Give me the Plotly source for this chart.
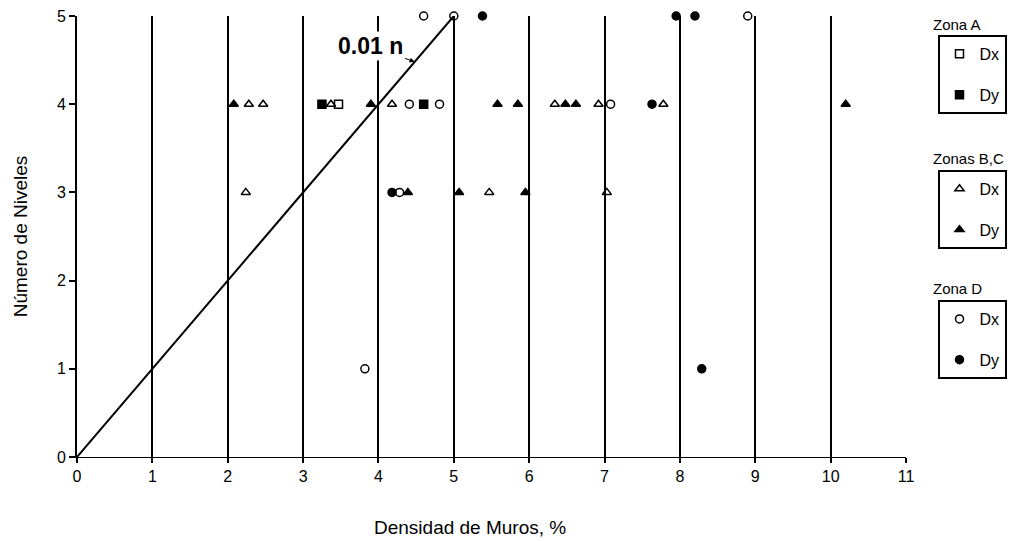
import plotly.graph_objects as go

# Wall density (%) vs. number of storeys, by seismic zone and direction
zona_a_dx_x = [3.47]
zona_a_dx_y = [4]
zona_a_dy_x = [3.25, 4.60]
zona_a_dy_y = [4, 4]

zona_bc_dx_x = [2.28, 2.47, 3.37, 4.18, 6.34, 6.92, 7.78, 2.24, 5.47, 7.03]
zona_bc_dx_y = [4, 4, 4, 4, 4, 4, 4, 3, 3, 3]
zona_bc_dy_x = [2.08, 3.90, 5.58, 5.85, 6.48, 6.62, 10.20, 4.39, 5.07, 5.95]
zona_bc_dy_y = [4, 4, 4, 4, 4, 4, 4, 3, 3, 3]

zona_d_dx_x = [4.60, 5.00, 8.90, 4.41, 4.81, 7.08, 4.28, 3.82]
zona_d_dx_y = [5, 5, 5, 4, 4, 4, 3, 1]
zona_d_dy_x = [5.38, 7.95, 8.20, 7.63, 4.18, 8.29]
zona_d_dy_y = [5, 5, 5, 4, 3, 1]

# Reference line: density = 0.01 n
ref_x = [0, 5]
ref_y = [0, 5]

x_ticks = list(range(0, 12))
y_ticks = list(range(0, 6))

FONT = "Liberation Sans, Arial, sans-serif"

fig = go.Figure()

fig.add_trace(go.Scatter(x=ref_x, y=ref_y, mode="lines",
                         line=dict(color="black", width=2),
                         showlegend=False, hoverinfo="skip"))


def add_series(xs, ys, symbol, name, legend, group):
    fig.add_trace(go.Scatter(
        x=xs, y=ys, mode="markers", name=name,
        legend=legend, legendgroup=group,
        marker=dict(symbol=symbol, size=8, color="black",
                    line=dict(color="black", width=1.5)),
        cliponaxis=False,
    ))


add_series(zona_a_dx_x, zona_a_dx_y, "square-open", "Dx", "legend", "a1")
add_series(zona_a_dy_x, zona_a_dy_y, "square", "Dy", "legend", "a2")
add_series(zona_bc_dx_x, zona_bc_dx_y, "triangle-up-open", "Dx", "legend2", "b1")
add_series(zona_bc_dy_x, zona_bc_dy_y, "triangle-up", "Dy", "legend2", "b2")
add_series(zona_d_dx_x, zona_d_dx_y, "circle-open", "Dx", "legend3", "d1")
add_series(zona_d_dy_x, zona_d_dy_y, "circle", "Dy", "legend3", "d2")

legend_common = dict(
    xanchor="left", yanchor="top",
    bordercolor="black", borderwidth=2, bgcolor="white",
    font=dict(family=FONT, size=16, color="black"),
    tracegroupgap=17, itemwidth=30,
    entrywidth=36, entrywidthmode="pixels",
)

fig.update_layout(
    width=1024, height=541,
    paper_bgcolor="white", plot_bgcolor="white",
    margin=dict(l=77, r=118, t=16, b=84, autoexpand=False),
    font=dict(family=FONT, size=16, color="black"),
    legend=dict(x=1.038, y=0.957, **legend_common),
    legend2=dict(x=1.038, y=0.651, **legend_common),
    legend3=dict(x=1.038, y=0.356, **legend_common),
    xaxis=dict(
        range=[0, 11], tickvals=x_ticks, ticktext=[str(v) for v in x_ticks],
        showgrid=True, gridcolor="black", gridwidth=2,
        showline=True, linecolor="black", linewidth=1,
        ticks="outside", ticklen=5, tickwidth=2, tickcolor="black",
        zeroline=False, tickfont=dict(size=16, family=FONT),
    ),
    yaxis=dict(
        range=[0, 5], tickvals=y_ticks, ticktext=[str(v) for v in y_ticks],
        showgrid=False, showline=True, linecolor="black", linewidth=2,
        ticks="outside", ticklen=6, tickwidth=1.5, tickcolor="black",
        zeroline=False, tickfont=dict(size=16, family=FONT),
        title=dict(text="Número de Niveles", font=dict(size=19, family=FONT),
                   standoff=24),
    ),
)

# X axis title
fig.add_annotation(xref="paper", yref="paper", x=0.474, y=-0.159,
                   text="Densidad de Muros, %", showarrow=False,
                   font=dict(size=19, family=FONT), yanchor="middle")

# Legend group titles above each box
for ytitle, txt in [(0.980, "Zona A"), (0.678, "Zonas B,C"), (0.381, "Zona D")]:
    fig.add_annotation(xref="paper", yref="paper", x=1.030, y=ytitle,
                       text=txt, showarrow=False, xanchor="left",
                       yanchor="middle", font=dict(size=15, family=FONT))

# Label for the reference line
fig.add_annotation(x=4.48, y=4.48, ax=3.9, ay=4.66, axref="x", ayref="y",
                   text="<b>0.01 n</b>", showarrow=True, arrowhead=2,
                   arrowwidth=1, arrowcolor="black", bgcolor="white",
                   font=dict(size=23, family=FONT, color="black"))

fig.write_html("out.html")
